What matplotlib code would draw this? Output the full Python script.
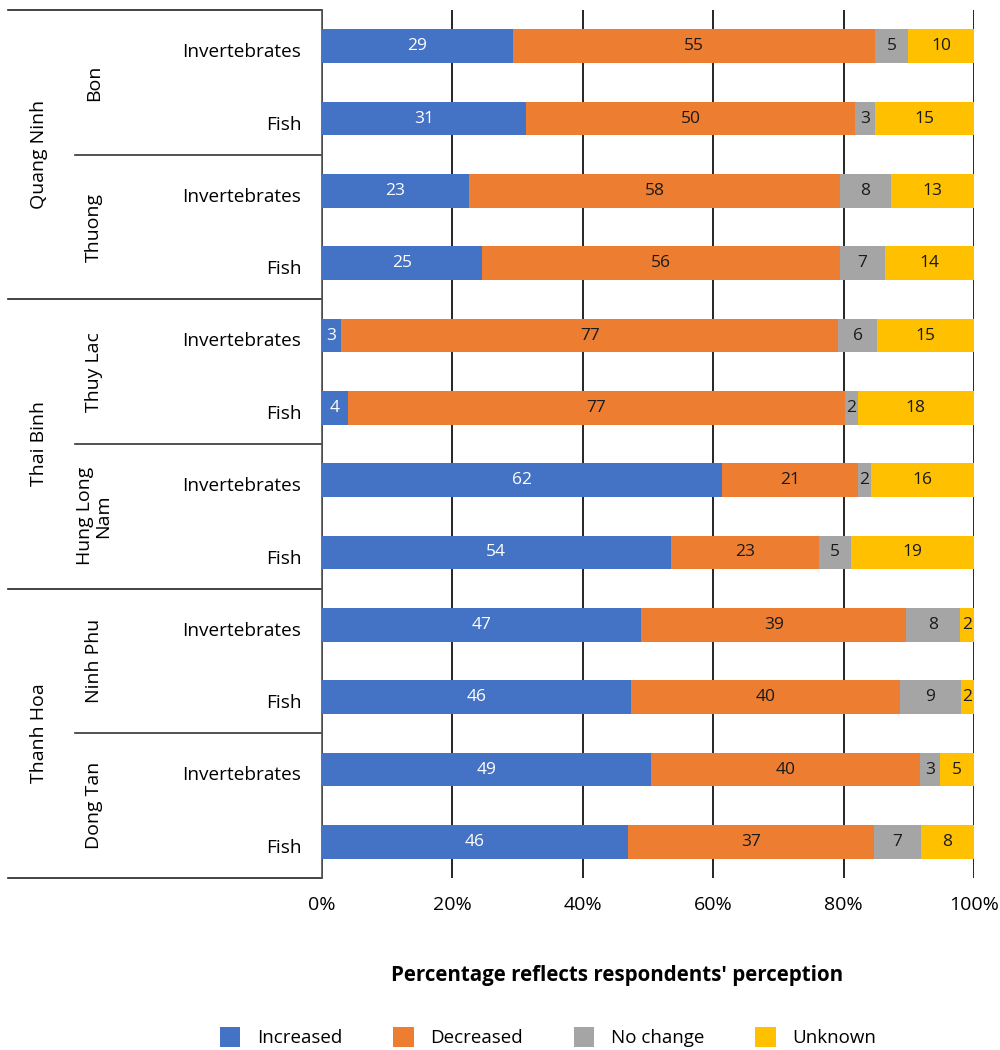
import matplotlib
matplotlib.use("Agg")
import matplotlib.pyplot as plt
from matplotlib.patches import Patch
import matplotlib.transforms as mtransforms
import numpy as np

plt.rcParams['font.family'] = ['Open Sans', 'DejaVu Sans']

# Rows from top to bottom
provinces = ["Quang Ninh", "Thai Binh", "Thanh Hoa"]
communes = ["Bon", "Thuong", "Thuy Lac", "Hung Long\nNam", "Ninh Phu", "Dong Tan"]
row_labels = ["Invertebrates", "Fish"] * 6

series = ["Increased", "Decreased", "No change", "Unknown"]
colors = ["#4472C4", "#ED7D31", "#A5A5A5", "#FFC000"]

increased = [29, 31, 23, 25, 3, 4, 62, 54, 47, 46, 49, 46]
decreased = [55, 50, 58, 56, 77, 77, 21, 23, 39, 40, 40, 37]
no_change = [5, 3, 8, 7, 6, 2, 2, 5, 8, 9, 3, 7]
unknown = [10, 15, 13, 14, 15, 18, 16, 19, 2, 2, 5, 8]

W, H = 1000, 1050
fig = plt.figure(figsize=(W / 100, H / 100), dpi=100)
ax = fig.add_axes([322 / W, 1 - 878 / H, (974 - 322) / W, (878 - 10) / H])

vals = np.array([increased, decreased, no_change, unknown], dtype=float)
totals = vals.sum(axis=0)
shares = vals / totals * 100
n = vals.shape[1]
y = np.arange(n)

left = np.zeros(n)
for k in range(4):
    ax.barh(y, shares[k], left=left, height=0.47, color=colors[k], zorder=3)
    for i in range(n):
        cx = left[i] + shares[k][i] / 2
        ax.text(cx, y[i], f"{int(vals[k][i])}", ha="center", va="center",
                fontsize=12.5, color="white" if k == 0 else "#1a1a1a", zorder=4)
    left += shares[k]

ax.set_xlim(0, 100)
ax.set_ylim(n - 0.5, -0.5)
ax.set_xticks([0, 20, 40, 60, 80, 100])
ax.set_xticklabels(["0%", "20%", "40%", "60%", "80%", "100%"], fontsize=14)
ax.set_yticks(y)
ax.set_yticklabels(row_labels, fontsize=13.7)
ax.tick_params(axis="y", length=0, pad=15)
ax.tick_params(axis="x", length=0, pad=13)
# nudge row labels slightly below the bar centres
shift = mtransforms.ScaledTranslation(0, -4 / 100, fig.dpi_scale_trans)
for lab in ax.get_yticklabels():
    lab.set_transform(lab.get_transform() + shift)
for s in ["top", "right", "bottom"]:
    ax.spines[s].set_visible(False)
ax.spines["left"].set_color("#555555")
ax.spines["left"].set_linewidth(1.2)
ax.xaxis.grid(True, color="black", linewidth=1.2, zorder=0)
ax.set_axisbelow(True)

# Grouping lines and labels on the left
trans = mtransforms.blended_transform_factory(ax.transAxes, ax.transData)
def xa(px):
    return (px - 322) / (974 - 322)

# Province separators
for yy in [-0.5, 3.5, 7.5, 11.5]:
    ax.plot([xa(8), 0], [yy, yy], transform=trans, color="#222222",
            linewidth=1.2, clip_on=False)
# Commune separators
for yy in [1.5, 5.5, 9.5]:
    ax.plot([xa(75), 0], [yy, yy], transform=trans, color="#333333",
            linewidth=1.2, clip_on=False)

for j, p in enumerate(provinces):
    ax.text(xa(39), 4 * j + 1.5, p, transform=trans, rotation=90,
            ha="center", va="center", fontsize=14)
for j, c in enumerate(communes):
    ax.text(xa(94), 2 * j + 0.5, c, transform=trans, rotation=90,
            ha="center", va="center", fontsize=14, linespacing=0.95)

fig.text(617 / W, 1 - 975 / H, "Percentage reflects respondents' perception",
         ha="center", va="center", fontsize=14.8, fontweight="bold")

handles = [Patch(facecolor=c, edgecolor="none") for c in colors]
fig.legend(handles, series, loc="center", bbox_to_anchor=(548 / W, 1 - 1037 / H),
           ncol=4, frameon=False, fontsize=13.5, handlelength=1.1, handleheight=1.3,
           columnspacing=2.7, handletextpad=0.9)

fig.savefig("out.png", dpi=100)
